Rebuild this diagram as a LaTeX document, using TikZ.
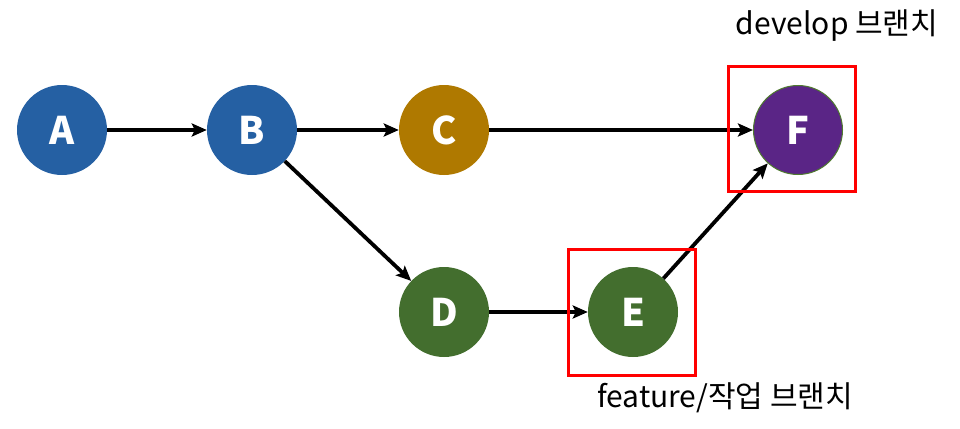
\documentclass[tikz,border=0pt]{standalone}
\usepackage{fontspec}
\setmainfont{Noto Sans CJK KR}
\usetikzlibrary{arrows.meta}
\definecolor{cblue}{HTML}{2560A3}
\definecolor{cgold}{HTML}{AF7900}
\definecolor{cgreen}{HTML}{436E2E}
\definecolor{cpurple}{HTML}{5A2586}
\definecolor{cborder}{HTML}{4F7A2F}
\begin{document}
\begin{tikzpicture}[x=1pt,y=-1pt,
  commit/.style={circle,minimum size=90pt,inner sep=0pt,text=white,font=\fontsize{38}{42}\selectfont\bfseries},
  link/.style={line width=3.8pt,-{Stealth[length=15pt,width=13pt,inset=3pt]}},
  redbox/.style={draw=red,line width=3pt},
  lbl/.style={font=\fontsize{30}{34}\selectfont,inner sep=0pt}]
\useasboundingbox (0,0) rectangle (960,428);
\node[commit,fill=cblue] (A) at (62,130) {A};
\node[commit,fill=cblue] (B) at (252,130) {B};
\node[commit,fill=cgold] (C) at (444,130) {C};
\node[commit,fill=cpurple,draw=cborder,line width=1pt,minimum size=89pt] (F) at (798,130) {F};
\node[commit,fill=cgreen] (D) at (444,312) {D};
\node[commit,fill=cgreen] (E) at (633,312) {E};
\draw[link] (A) -- (B);
\draw[link] (B) -- (C);
\draw[link] (C) -- (F);
\draw[link] (B) -- (D);
\draw[link] (D) -- (E);
\draw[link] (E) -- (F);
\coordinate (f1) at (728,66);
\coordinate (f2) at (855,191);
\coordinate (e1) at (568,249);
\coordinate (e2) at (695,375);
\draw[redbox] (f1) rectangle (f2);
\draw[redbox] (e1) rectangle (e2);
\node[lbl,anchor=base] (ldev) at (837,35) {develop 브랜치};
\node[lbl,anchor=base] (lfeat) at (725,407) {feature/작업 브랜치};
\end{tikzpicture}
\end{document}
